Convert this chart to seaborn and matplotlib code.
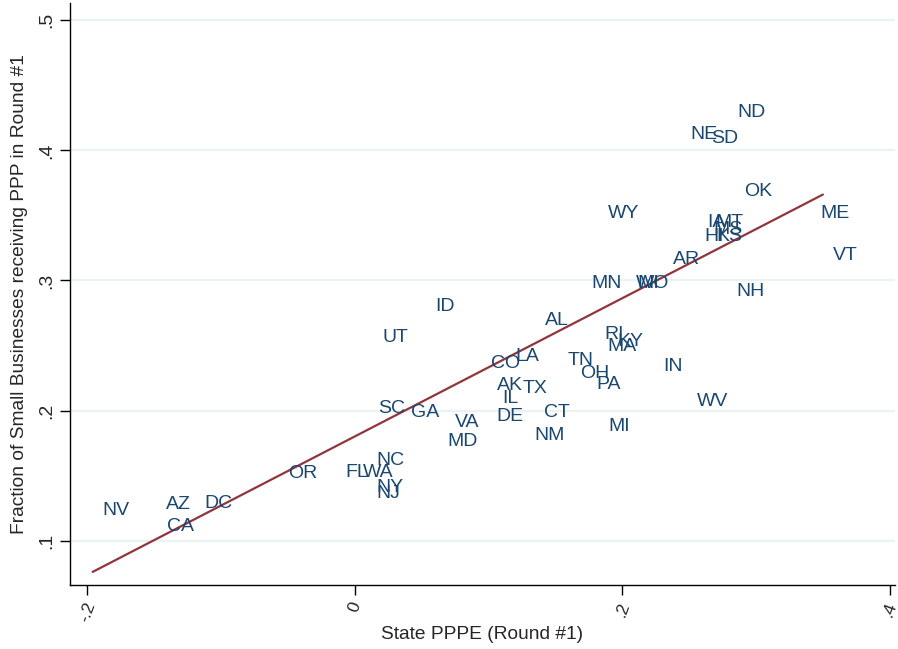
import matplotlib
matplotlib.use("Agg")
import matplotlib.pyplot as plt
import pandas as pd
import seaborn as sns

# state labels, PPPE (round 1) and fraction of small businesses receiving PPP
states = ["ND", "NE", "SD", "OK", "WY", "ME", "IA", "MT", "MS", "HI", "KS",
          "AR", "VT", "MN", "WI", "MO", "NH", "ID", "AL", "UT", "RI", "KY",
          "MA", "CO", "LA", "TN", "IN", "OH", "PA", "AK", "TX", "IL", "WV",
          "SC", "GA", "CT", "DE", "VA", "MI", "NM", "MD", "NC", "OR", "FL",
          "WA", "NY", "NJ", "NV", "AZ", "DC", "CA"]
pppe = [0.2788, 0.2436, 0.2593, 0.2840, 0.1816, 0.3408, 0.2564, 0.2623,
        0.2608, 0.2541, 0.2631, 0.2302, 0.3498, 0.1697, 0.2025, 0.2040,
        0.2780, 0.0531, 0.1345, 0.0135, 0.1794, 0.1891, 0.1816, 0.0949,
        0.1129, 0.1517, 0.2235, 0.1614, 0.1734, 0.0987, 0.1181, 0.1031,
        0.2481, 0.0105, 0.0351, 0.1345, 0.0987, 0.0673, 0.1824, 0.1271,
        0.0620, 0.0090, -0.0568, -0.0142, -0.0015, 0.0090, 0.0090,
        -0.1958, -0.1480, -0.1196, -0.1472]
frac_ppp = [0.4315, 0.4146, 0.4115, 0.3706, 0.3537, 0.3537, 0.3475, 0.3475,
            0.3421, 0.3367, 0.3367, 0.3190, 0.3221, 0.3005, 0.3005, 0.3005,
            0.2943, 0.2827, 0.2719, 0.2588, 0.2611, 0.2557, 0.2519, 0.2388,
            0.2442, 0.2411, 0.2365, 0.2311, 0.2226, 0.2218, 0.2195, 0.2118,
            0.2095, 0.2041, 0.2010, 0.2010, 0.1979, 0.1933, 0.1902, 0.1833,
            0.1786, 0.1640, 0.1540, 0.1547, 0.1547, 0.1439, 0.1386,
            0.1262, 0.1301, 0.1316, 0.1139]

x_ticks = [-0.2, 0, 0.2, 0.4]
x_ticklabels = ["-.2", "0", ".2", ".4"]
y_ticks = [0.1, 0.2, 0.3, 0.4, 0.5]
y_ticklabels = [".1", ".2", ".3", ".4", ".5"]

df = pd.DataFrame({"state": states, "pppe": pppe, "frac": frac_ppp})

sns.set_theme(style="ticks")
plt.rcParams["font.family"] = ["Liberation Sans", "DejaVu Sans"]

label_color = "#1a476f"
line_color = "#90353b"

fig = plt.figure(figsize=(8.98, 6.49), dpi=100)
ax = fig.add_axes([0.078, 0.0986, 0.9187, 0.8964])

for yt in y_ticks:
    ax.axhline(yt, color="#eaf2f3", lw=1.6, zorder=0)

# linear fit over the data range
sns.regplot(data=df, x="pppe", y="frac", scatter=False, ci=None,
            color=line_color, line_kws={"lw": 1.6}, ax=ax)

for _, row in df.iterrows():
    ax.annotate(row["state"], (row["pppe"], row["frac"]),
                xytext=(7, -1), textcoords="offset points",
                ha="left", va="center_baseline", fontsize=14,
                color=label_color)

ax.set_xlim(-0.2127, 0.4037)
ax.set_ylim(0.066, 0.513)
ax.set_xticks(x_ticks)
ax.set_xticklabels(x_ticklabels, rotation=70, fontsize=12.5)
ax.set_yticks(y_ticks)
ax.set_yticklabels(y_ticklabels, rotation=90, va="center", fontsize=14)
ax.tick_params(axis="both", length=7, width=1, color="black", pad=4)
ax.set_xlabel("State PPPE (Round #1)", fontsize=13.8, labelpad=1)
ax.set_ylabel("Fraction of Small Businesses receiving PPP in Round #1",
              fontsize=13.8, labelpad=7)
ax.spines["top"].set_visible(False)
ax.spines["right"].set_visible(False)
for s in ["left", "bottom"]:
    ax.spines[s].set_color("black")
    ax.spines[s].set_linewidth(1)
ax.grid(False)

fig.savefig("out.png", dpi=100, facecolor="white")
